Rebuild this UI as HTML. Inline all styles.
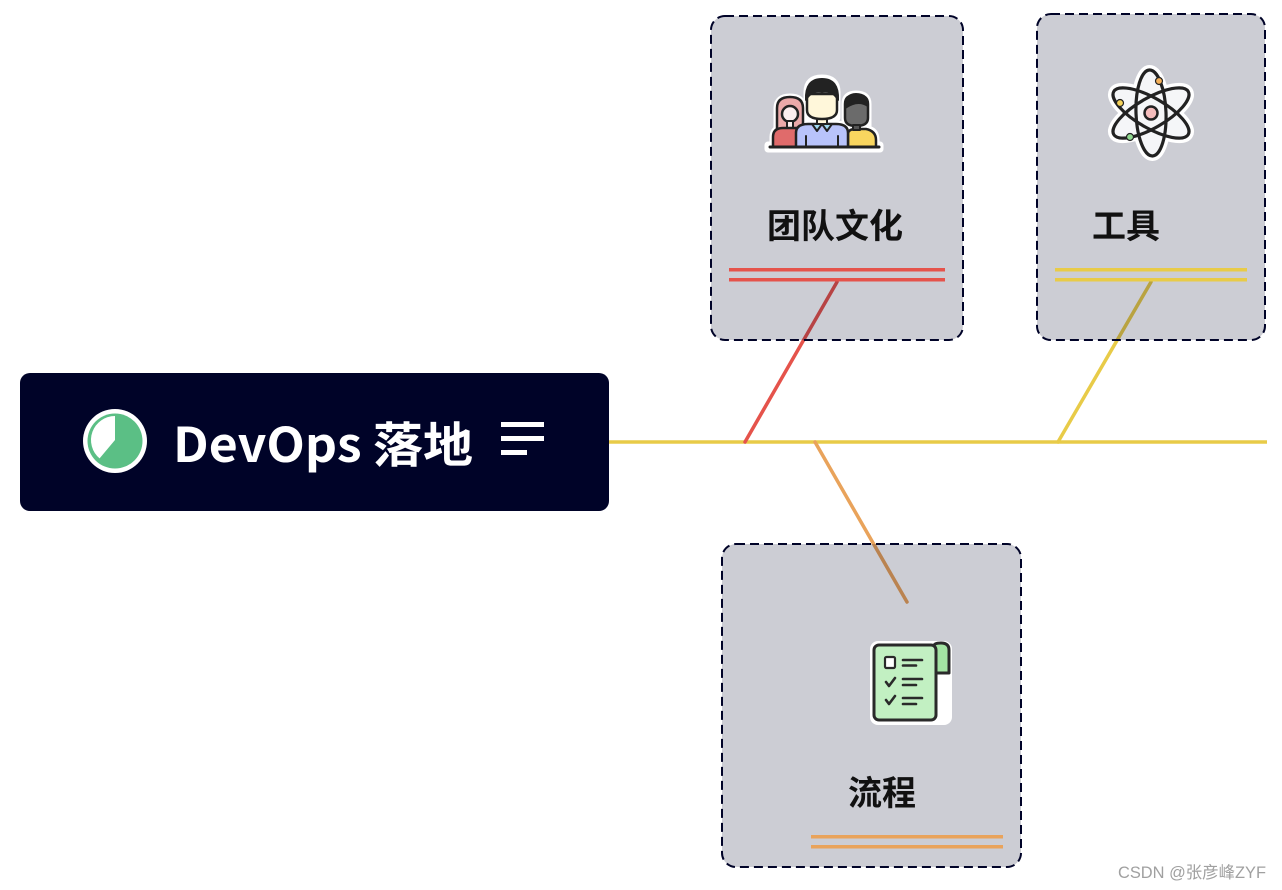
<!DOCTYPE html>
<html>
<head>
<meta charset="utf-8">
<style>
  html,body{margin:0;padding:0;background:#ffffff;}
  svg{display:block;}
</style>
</head>
<body>
<svg width="1282" height="890" viewBox="0 0 1282 890" xmlns="http://www.w3.org/2000/svg">
  <rect x="0" y="0" width="1282" height="890" fill="#ffffff"/>

  <!-- connectors (drawn under translucent cards) -->
  <line x1="606" y1="442" x2="1267" y2="442" stroke="#E8CB48" stroke-width="3.5"/>
  <line x1="745" y1="442" x2="837" y2="282" stroke="#E5534B" stroke-width="3.5" stroke-linecap="round"/>
  <line x1="1058" y1="442" x2="1151" y2="282" stroke="#E8CB48" stroke-width="3.5" stroke-linecap="round"/>
  <line x1="815" y1="442" x2="907" y2="602" stroke="#E9A35B" stroke-width="3.5" stroke-linecap="round"/>

  <!-- root node -->
  <rect x="20" y="373" width="589" height="138" rx="10" ry="10" fill="#000328"/>
  <circle cx="115" cy="441" r="32" fill="#ffffff"/>
  <circle cx="115" cy="441" r="27.5" fill="#5BBF85"/>
  <path d="M115,440 L115,416 A24,24 0 0 0 99.6,458.4 Z" fill="#ffffff"/>
  <text x="173" y="462" font-family="'Noto Sans CJK SC','Liberation Sans',sans-serif" font-weight="700" font-size="48" fill="#ffffff" textLength="300" lengthAdjust="spacingAndGlyphs">DevOps 落地</text>
  <rect x="501" y="422" width="43" height="5" fill="#ffffff"/>
  <rect x="501" y="436" width="43" height="5" fill="#ffffff"/>
  <rect x="501" y="450" width="26" height="5" fill="#ffffff"/>

  <!-- cards -->
  <rect x="711" y="16" width="252" height="324" rx="14" ry="14" fill="rgba(0,3,38,0.2)" stroke="#000328" stroke-width="2" stroke-dasharray="9 5"/>
  <rect x="1037" y="14" width="228" height="326" rx="14" ry="14" fill="rgba(0,3,38,0.2)" stroke="#000328" stroke-width="2" stroke-dasharray="9 5"/>
  <rect x="722" y="544" width="299" height="323" rx="14" ry="14" fill="rgba(0,3,38,0.2)" stroke="#000328" stroke-width="2" stroke-dasharray="9 5"/>

  <!-- underlines -->
  <rect x="729" y="268" width="216" height="3.5" fill="#E5534B"/>
  <rect x="729" y="278" width="216" height="3.5" fill="#E5534B"/>
  <rect x="1055" y="268" width="192" height="3.5" fill="#E8CB48"/>
  <rect x="1055" y="278" width="192" height="3.5" fill="#E8CB48"/>
  <rect x="811" y="835" width="192" height="3.5" fill="#E9A35B"/>
  <rect x="811" y="845" width="192" height="3.5" fill="#E9A35B"/>

  <!-- card labels -->
  <text x="767" y="238" font-family="'Liberation Sans','Noto Sans CJK SC',sans-serif" font-weight="700" font-size="34" fill="#111111" textLength="136" lengthAdjust="spacingAndGlyphs">团队文化</text>
  <text x="1092" y="238" font-family="'Liberation Sans','Noto Sans CJK SC',sans-serif" font-weight="700" font-size="34" fill="#111111">工具</text>
  <text x="848" y="805" font-family="'Liberation Sans','Noto Sans CJK SC',sans-serif" font-weight="700" font-size="34" fill="#111111">流程</text>

  <!-- people icon -->
  <g stroke-linejoin="round" stroke-linecap="round">
    <g fill="#ffffff" stroke="#ffffff" stroke-width="7">
      <path d="M777,128 L777,108 Q777,97 790,97 Q803,97 803,108 L803,128 Z"/>
      <path d="M773,147 L773,137 Q773,128 783,128 L800,128 L800,147 Z"/>
      <path d="M845,126 L845,104 Q845,94 856,94 Q868,94 868,104 L868,126 Z"/>
      <path d="M848,147 L848,133 Q848,129 856,129 L868,129 Q876,131 876,140 L876,147 Z"/>
      <path d="M807,118 L807,92 Q807,78 822,78 Q837,78 837,92 L837,118 Z"/>
      <path d="M796,147 L796,133 Q796,124 808,124 L836,124 Q848,124 848,133 L848,147 Z"/>
      <rect x="768" y="145" width="112" height="4"/>
    </g>
    <!-- woman -->
    <path d="M777,130 L777,108 Q777,97 790,97 Q803,97 803,108 L803,130 Z" fill="#EBA9A9" stroke="#222" stroke-width="2.5"/>
    <circle cx="790" cy="114" r="8" fill="#FBEDED" stroke="#222" stroke-width="2.5"/>
    <rect x="787" y="121" width="6" height="7" fill="#FBEDED" stroke="#222" stroke-width="2"/>
    <path d="M773,147 L773,137 Q773,128 783,128 L800,128 L800,147 Z" fill="#E06B6B" stroke="#222" stroke-width="2.5"/>
    <!-- right man -->
    <path d="M848,147 L848,134 Q848,129 856,129 L866,129 Q876,131 876,140 L876,147 Z" fill="#F9D65F" stroke="#222" stroke-width="2.5"/>
    <path d="M845,110 L845,104 Q845,95 856,95 Q868,95 868,104 L868,118 Q868,126 856,126 Q845,126 845,118 Z" fill="#6B6B6B" stroke="#222" stroke-width="2.5"/>
    <path d="M845,108 Q845,94 856,94 Q868,94 868,106 Q858,99 845,108 Z" fill="#222" stroke="#222" stroke-width="2"/>
    <rect x="853" y="125" width="7" height="5" fill="#555" stroke="#222" stroke-width="2"/>
    <!-- center man -->
    <path d="M796,147 L796,133 Q796,124 808,124 L836,124 Q848,124 848,133 L848,147 Z" fill="#B8C3FA" stroke="#222" stroke-width="2.5"/>
    <line x1="806" y1="136" x2="806" y2="147" stroke="#222" stroke-width="2"/>
    <line x1="838" y1="136" x2="838" y2="147" stroke="#222" stroke-width="2"/>
    <rect x="817" y="116" width="10" height="9" fill="#FFF7DA" stroke="#222" stroke-width="2"/>
    <path d="M812,124 L822,124 L817,131 Z" fill="#9FD8EE" stroke="#222" stroke-width="2"/>
    <path d="M822,124 L832,124 L827,131 Z" fill="#9FD8EE" stroke="#222" stroke-width="2"/>
    <path d="M807,94 L807,110 Q807,119 822,119 Q837,119 837,110 L837,94 Z" fill="#FFF7DA" stroke="#222" stroke-width="2.5"/>
    <path d="M806,100 Q805,79 822,79 Q839,79 838,100 Q833,90 822,92 Q811,90 806,100 Z" fill="#222" stroke="#222" stroke-width="2"/>
    <line x1="770" y1="147" x2="879" y2="147" stroke="#222" stroke-width="3"/>
  </g>

  <!-- atom icon -->
  <g fill="none">
    <g stroke="#ffffff" stroke-width="10">
      <ellipse cx="1151" cy="113" rx="43" ry="15" transform="rotate(88 1151 113)"/>
      <ellipse cx="1151" cy="113" rx="43" ry="15" transform="rotate(30 1151 113)"/>
      <ellipse cx="1151" cy="113" rx="43" ry="15" transform="rotate(-30 1151 113)"/>
    </g>
    <circle cx="1151" cy="113" r="28" fill="#F5F6F8"/>
    <g fill="#F5F6F8">
      <ellipse cx="1151" cy="113" rx="43" ry="15" transform="rotate(88 1151 113)"/>
      <ellipse cx="1151" cy="113" rx="43" ry="15" transform="rotate(30 1151 113)"/>
      <ellipse cx="1151" cy="113" rx="43" ry="15" transform="rotate(-30 1151 113)"/>
    </g>
    <g stroke="#222222" stroke-width="3.2">
      <ellipse cx="1151" cy="113" rx="43" ry="15" transform="rotate(88 1151 113)"/>
      <ellipse cx="1151" cy="113" rx="43" ry="15" transform="rotate(30 1151 113)"/>
      <ellipse cx="1151" cy="113" rx="43" ry="15" transform="rotate(-30 1151 113)"/>
    </g>
    <circle cx="1151" cy="113" r="6.5" fill="#F5BDBD" stroke="#222" stroke-width="2.5"/>
    <circle cx="1159" cy="81" r="3.5" fill="#F5B15A" stroke="#222" stroke-width="1.2"/>
    <circle cx="1120" cy="103" r="3.5" fill="#F5D25A" stroke="#222" stroke-width="1.2"/>
    <circle cx="1130" cy="137" r="3.5" fill="#8FD98F" stroke="#222" stroke-width="1.2"/>
  </g>

  <!-- checklist icon -->
  <g stroke-linejoin="round" stroke-linecap="round">
    <rect x="870" y="641" width="82" height="84" rx="8" fill="#ffffff"/>
    <path d="M934,646 Q934,643 941,643 Q949,643 949,650 L949,673 L934,673 Z" fill="#A3E4A3" stroke="#2a2a2a" stroke-width="3"/>
    <rect x="874" y="645" width="62" height="75" rx="5" fill="#C2F0C2" stroke="#2a2a2a" stroke-width="3"/>
    <rect x="885" y="657" width="10" height="11" rx="1.5" fill="#ffffff" stroke="#2a2a2a" stroke-width="2.2"/>
    <g stroke="#2a2a2a" stroke-width="2.6" fill="none">
      <line x1="903" y1="660" x2="922" y2="660"/>
      <line x1="903" y1="665.5" x2="916" y2="665.5"/>
      <polyline points="886,682 889,686 895,678"/>
      <line x1="903" y1="679" x2="922" y2="679"/>
      <line x1="903" y1="685" x2="916" y2="685"/>
      <polyline points="886,700 889,704 895,696"/>
      <line x1="903" y1="698" x2="922" y2="698"/>
      <line x1="903" y1="704" x2="916" y2="704"/>
    </g>
  </g>

  <!-- watermark -->
  <text x="1118" y="878" font-family="'Liberation Sans','Noto Sans CJK SC',sans-serif" font-size="16.5" fill="#a0a0a0" textLength="148" lengthAdjust="spacingAndGlyphs">CSDN @张彦峰ZYF</text>
</svg>
</body>
</html>
